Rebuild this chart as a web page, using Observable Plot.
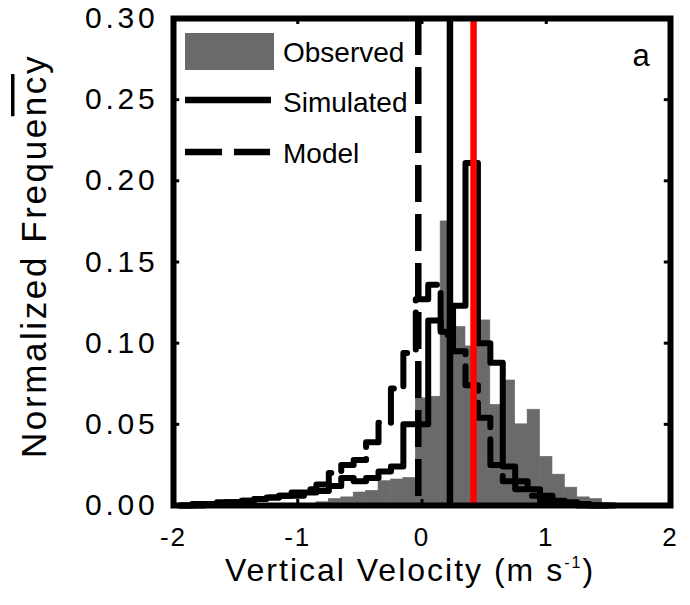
<!DOCTYPE html>
<html><head><meta charset="utf-8">
<script src="https://cdn.jsdelivr.net/npm/d3@7"></script>
<script src="https://cdn.jsdelivr.net/npm/@observablehq/plot@0.6"></script>
<style>
body{margin:0;background:#fff;}
svg{font-family:"Liberation Sans",Arial,sans-serif;}
</style>
</head><body><div id="chart"></div>
<script>
// bin centres (m s-1), bin width 0.1
const bins = [-1.9,-1.8,-1.7,-1.6,-1.5,-1.4,-1.3,-1.2,-1.1,-1.0,-0.9,-0.8,-0.7,-0.6,-0.5,-0.4,-0.3,-0.2,-0.1,0.0,0.1,0.2,0.3,0.4,0.5,0.6,0.7,0.8,0.9,1.0,1.1,1.2,1.3,1.4,1.5];
const binWidth = 0.1;
const observed  = [0,0,0,0,0,0,0,0,0,0.001, 0.001,0.002,0.004,0.005,0.008,0.009,0.015,0.016,0.017, 0.066,0.067,0.175,0.110,0.098,0.114,0.062,0.077,0.050,0.059, 0.030,0.019,0.011,0.005,0.004,0.001];
const simulated = [0,0,0.001,0.002,0.002,0.003,0.004,0.005,0.006,0.006, 0.008,0.009,0.012,0.017,0.015,0.017,0.021,0.024,0.050, 0.050,0.114,0.107,0.123,0.211,0.100,0.088,0.024,0.015,0.010, 0.006,0.003,0.002,0.001,0,0];
const model     = [0,0.001,0.001,0.002,0.002,0.003,0.004,0.005,0.006,0.008, 0.010,0.013,0.020,0.025,0.028,0.039,0.051,0.072,0.094, 0.127,0.136,0.105,0.095,0.074,0.054,0.025,0.015,0.010,0.006, 0.003,0.002,0.001,0,0,0];
const meanModel = -0.03, meanSimulated = 0.225, meanObserved = 0.415;
const xTicks = [-2,-1,0,1,2];
const yTicks = [0,0.05,0.10,0.15,0.20,0.25,0.30];
const legendNames = ["Observed","Simulated","Model"];
const panelLabel = "a";

const obsData = bins.map((c,i)=>({x1:c-binWidth/2, x2:c+binWidth/2, y:observed[i]}));
function stepPoints(vals){
  const pts = bins.map((c,i)=>({x:c-binWidth/2, y:vals[i]}));
  pts.push({x:bins[bins.length-1]+binWidth/2, y:vals[vals.length-1]});
  return pts;
}
const gray = "#6a6a6a";
const dash = "37,12";
const xMin = -2, xMax = 2, yMin = 0, yMax = 0.30;
const tickLenX = 0.05, tickLenY = 0.0037;

const plot = Plot.plot({
  width:690, height:605, marginLeft:173, marginRight:20, marginTop:18, marginBottom:100,
  x:{domain:[xMin,xMax]}, y:{domain:[yMin,yMax]},
  style:{fontFamily:"Liberation Sans, Arial, sans-serif", background:"white", color:"black", overflow:"visible"},
  marks:[
    Plot.rectY(obsData, {x1:"x1", x2:"x2", y:"y", fill:gray, stroke:gray, strokeWidth:0.6}),
    Plot.line(stepPoints(model), {x:"x", y:"y", curve:"step-after", stroke:"black", strokeWidth:6, strokeDasharray:dash}),
    Plot.line(stepPoints(simulated), {x:"x", y:"y", curve:"step-after", stroke:"black", strokeWidth:6}),
    Plot.ruleX([meanModel], {stroke:"black", strokeWidth:6.5, strokeDasharray:dash}),
    Plot.ruleX([meanSimulated], {stroke:"black", strokeWidth:6.5}),
    Plot.ruleX([meanObserved], {stroke:"#f00", strokeWidth:6.5}),
    // small inward ticks on all four sides
    Plot.ruleY(yTicks, {x1:xMin, x2:xMin+tickLenX, stroke:"black", strokeWidth:3}),
    Plot.ruleY(yTicks, {x1:xMax-tickLenX, x2:xMax, stroke:"black", strokeWidth:3}),
    Plot.ruleX(xTicks, {y1:yMin, y2:yMin+tickLenY, stroke:"black", strokeWidth:3}),
    Plot.ruleX(xTicks, {y1:yMax-tickLenY, y2:yMax, stroke:"black", strokeWidth:3}),
    Plot.frame({stroke:"black", strokeWidth:6}),
    Plot.axisX(xTicks, {anchor:"bottom", tickSize:0, tickPadding:22, fontSize:26, label:null, tickFormat:d=>String(d)}),
    Plot.axisY(yTicks, {anchor:"left", tickSize:0, tickPadding:15, fontSize:30, label:null, tickFormat:d3.format(".2f")})
  ]
});
document.getElementById("chart").appendChild(plot);
const svg = d3.select(plot);
svg.selectAll('[aria-label="x-axis tick label"] text').style("letter-spacing","2px");
svg.selectAll('[aria-label="y-axis tick label"] text').style("letter-spacing","3.8px");

// axis titles
const xt = svg.append("text").attr("x",410).attr("y",581).attr("text-anchor","middle")
  .attr("font-size",32).style("letter-spacing","2px").attr("fill","black");
xt.append("tspan").text("Vertical Velocity (m s");
xt.append("tspan").attr("font-size",16).attr("dy",-13).text("-1");
xt.append("tspan").attr("dy",13).text(")");

const yt = svg.append("text").attr("transform","translate(46,256) rotate(-90)").attr("text-anchor","middle")
  .attr("font-size",35).style("letter-spacing","2.6px").attr("fill","black");
yt.append("tspan").text("Normalized Freque");
yt.append("tspan").style("text-decoration","overline").text("nc");
yt.append("tspan").text("y");

// legend
const lg = svg.append("g").attr("text-anchor","start");
lg.append("rect").attr("x",185).attr("y",33).attr("width",89).attr("height",37).attr("fill",gray);
lg.append("line").attr("x1",185).attr("x2",271).attr("y1",100).attr("y2",100).attr("stroke","black").attr("stroke-width",6.5);
lg.append("line").attr("x1",185).attr("x2",270).attr("y1",152).attr("y2",152).attr("stroke","black").attr("stroke-width",6.5).attr("stroke-dasharray",dash);
[62,112,163].forEach((yy,i)=>{
  lg.append("text").attr("x",283).attr("y",yy).attr("text-anchor","start").attr("font-size",28).attr("fill","black").text(legendNames[i]);
});
svg.append("text").attr("x",641).attr("y",66).attr("text-anchor","middle").attr("font-size",31).attr("fill","black").text(panelLabel);
</script>
</body></html>
